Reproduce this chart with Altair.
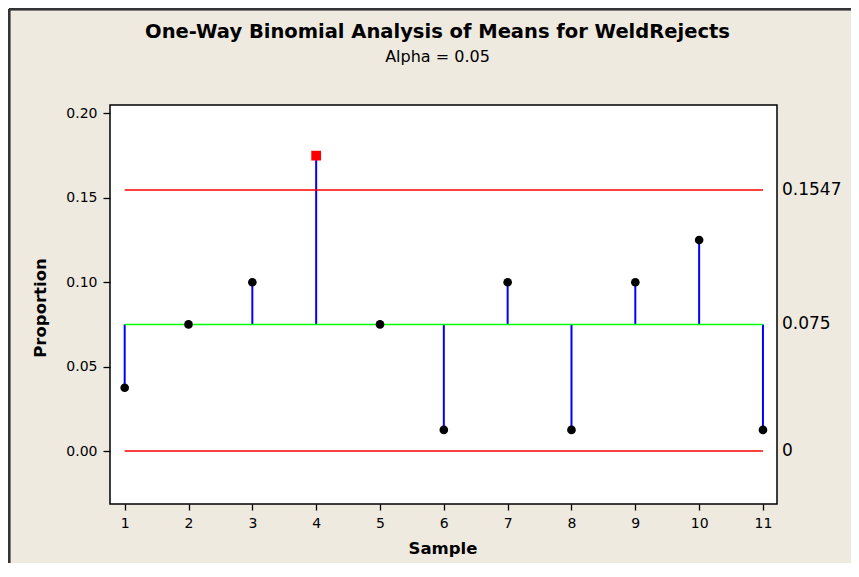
import altair as alt
import pandas as pd

# ---- data ----
samples = [1, 2, 3, 4, 5, 6, 7, 8, 9, 10, 11]
proportions = [0.0375, 0.075, 0.1, 0.175, 0.075, 0.0125, 0.1, 0.0125, 0.1, 0.125, 0.0125]
center = 0.075
udl = 0.1547
ldl = 0.0
limit_values = [udl, center, ldl]
limit_labels = ["0.1547", "0.075", "0"]
limit_colors = ["#FF0000", "#00FF00", "#FF0000"]
y_ticks = [0.0, 0.05, 0.10, 0.15, 0.20]
title_text = "One-Way Binomial Analysis of Means for WeldRejects"
subtitle_text = "Alpha = 0.05"

df = pd.DataFrame({"Sample": samples, "Proportion": proportions})
df["Center"] = center
df["Out"] = [(p > udl) or (p < ldl) for p in proportions]

lim = pd.DataFrame({"Proportion": limit_values, "label": limit_labels,
                    "color": limit_colors})
lim["Sample"] = samples[0]
lim["SampleEnd"] = samples[-1]

titles = pd.DataFrame({"t": [title_text, subtitle_text]})

W, H = 667, 399
FONT = "DejaVu Sans"

xs = alt.Scale(domain=[0.77, 11.22], nice=False, zero=False)
ys = alt.Scale(domain=[-0.0314, 0.205], nice=False, zero=False)

x_axis = alt.Axis(values=samples, format="d", title="Sample", titleX=W / 2 - 1,
                  titleY=44, titleBaseline="middle", titleAlign="center",
                  labelPadding=6, tickSize=6)
y_axis = alt.Axis(values=y_ticks, format=".2f", title="Proportion", titleX=-70,
                  titleY=H / 2 + 3, titleAngle=-90, titleBaseline="middle",
                  titleAlign="center", labelPadding=6, tickSize=7)

X = alt.X("Sample:Q", scale=xs, axis=x_axis)
Y = alt.Y("Proportion:Q", scale=ys, axis=y_axis)

stems = alt.Chart(df).mark_rule(color="#0000FF", strokeWidth=2).encode(
    x=X, y=Y, y2="Center:Q")

hlines = alt.Chart(lim).mark_rule(strokeWidth=1.5).encode(
    x=X, x2="SampleEnd:Q", y=Y, color=alt.Color("color:N", scale=None))

pts = alt.Chart(df).transform_filter("!datum.Out").mark_circle(
    size=75, color="black", opacity=1).encode(x=X, y=Y)

outs = alt.Chart(df).transform_filter("datum.Out").mark_square(
    size=95, color="#FF0000", opacity=1).encode(x=X, y=Y)

labels = alt.Chart(lim).mark_text(
    align="left", baseline="middle", fontSize=17, font=FONT, color="black").encode(
    x=alt.value(W + 5), y=Y, text="label:N")

title_mark = alt.Chart(titles).transform_filter(
    alt.datum.t == title_text).mark_text(
    align="center", baseline="middle", font=FONT, fontSize=19.5,
    fontWeight="bold", color="black").encode(
    x=alt.value(W / 2 - 6), y=alt.value(-73), text="t:N")

subtitle_mark = alt.Chart(titles).transform_filter(
    alt.datum.t == subtitle_text).mark_text(
    align="center", baseline="middle", font=FONT, fontSize=16,
    color="black").encode(
    x=alt.value(W / 2 - 6), y=alt.value(-48), text="t:N")

border = alt.Chart(lim).mark_rule(color="#333333", strokeWidth=2.5).encode(
    x=alt.value(-101), y=alt.value(-96), y2=alt.value(H + 60))
border_top = alt.Chart(lim).mark_rule(color="#333333", strokeWidth=2.5).encode(
    x=alt.value(-101), x2=alt.value(W + 75), y=alt.value(-96))

chart = alt.layer(border, border_top, title_mark, subtitle_mark,
                  stems, hlines, pts, outs, labels).properties(
    width=W, height=H,
    background="#EEEAE0",
    padding={"left": 102, "top": 97, "right": 74, "bottom": 59},
    autosize=alt.AutoSizeParams(type="none"),
).configure_view(
    stroke="black", strokeWidth=1.5, fill="white"
).configure_axis(
    grid=False, domain=False, tickColor="black", tickWidth=1.3,
    labelFont=FONT, labelFontSize=14, labelColor="black",
    titleFont=FONT, titleFontSize=16.5, titleFontWeight="bold", titleColor="black"
)

chart.save("out.html", embed_options={"renderer": "svg", "actions": False})
